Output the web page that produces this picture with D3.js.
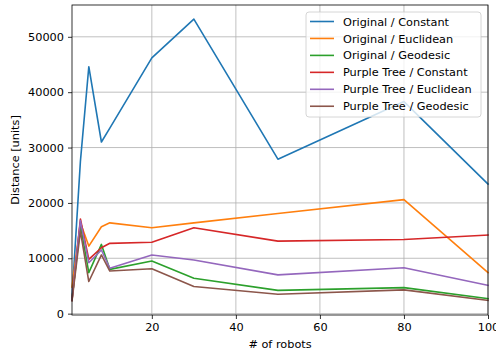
<!DOCTYPE html>
<html>
<head>
<meta charset="utf-8">
<script src="https://cdn.jsdelivr.net/npm/d3@7"></script>
<style>
  html, body { margin: 0; padding: 0; background: #fff; }
  svg { display: block; font-family: "DejaVu Sans", sans-serif; }
</style>
</head>
<body>
<svg id="chart" width="496" height="355"></svg>
<script>
// Number of robots on the x axis
const robots = [1, 3, 5, 8, 10, 20, 30, 50, 80, 100];

// Total distance per configuration
const originalConstant   = [2900, 27500, 44600, 31000, 33500, 46200, 53200, 27900, 38300, 23400];
const originalEuclidean  = [4800, 16400, 12200, 15700, 16400, 15500, 16400, 18100, 20600, 7400];
const originalGeodesic   = [2600, 16000, 7400, 12500, 8000, 9500, 6400, 4200, 4700, 2700];
const purpleConstant     = [2400, 17100, 9800, 11900, 12700, 12900, 15500, 13100, 13400, 14200];
const purpleEuclidean    = [2500, 16800, 9200, 11500, 8200, 10600, 9700, 7000, 8300, 5100];
const purpleGeodesic     = [2300, 14900, 5800, 10600, 7700, 8100, 4900, 3500, 4300, 2400];

const seriesNames = [
  "Original / Constant", "Original / Euclidean", "Original / Geodesic",
  "Purple Tree / Constant", "Purple Tree / Euclidean", "Purple Tree / Geodesic"
];
const seriesValues = [originalConstant, originalEuclidean, originalGeodesic,
                      purpleConstant, purpleEuclidean, purpleGeodesic];
const colors = ["#1f77b4", "#ff7f0e", "#2ca02c", "#d62728", "#9467bd", "#8c564b"];

const xTicks = [20, 40, 60, 80, 100];
const yTicks = [0, 10000, 20000, 30000, 40000, 50000];

const margin = { left: 72, right: 8, top: 5, bottom: 40 };
const W = 496, H = 355;
const svg = d3.select("#chart");

// y limits padded by 5% like the usual autoscale
const allVals = seriesValues.flat();
const yMin = d3.min(allVals), yMax = d3.max(allVals);
const pad = 0.05 * (yMax - yMin);

const x = d3.scaleLinear().domain([1, 100]).range([margin.left, W - margin.right]);
const y = d3.scaleLinear().domain([yMin - pad, yMax + pad]).range([H - margin.bottom, margin.top]);

const fontSize = 11.3;

// grid
const grid = svg.append("g");
grid.selectAll(".gx").data(xTicks).join("line")
  .attr("x1", d => x(d)).attr("x2", d => x(d))
  .attr("y1", y.range()[0]).attr("y2", y.range()[1])
  .attr("stroke", "#b0b0b0").attr("stroke-width", 0.8);
grid.selectAll(".gy").data(yTicks).join("line")
  .attr("x1", x.range()[0]).attr("x2", x.range()[1])
  .attr("y1", d => y(d)).attr("y2", d => y(d))
  .attr("stroke", "#b0b0b0").attr("stroke-width", 0.8);

// lines
const line = d3.line().x((d, i) => x(robots[i])).y(d => y(d));
const plot = svg.append("g");
seriesValues.forEach((vals, k) => {
  plot.append("path").datum(vals)
    .attr("d", line)
    .attr("fill", "none")
    .attr("stroke", colors[k])
    .attr("stroke-width", 1.6)
    .attr("stroke-linejoin", "round")
    .attr("stroke-linecap", "square");
});

// axes
const xAxis = d3.axisBottom(x).tickValues(xTicks).tickSize(4).tickPadding(4);
const yAxis = d3.axisLeft(y).tickValues(yTicks).tickSize(4).tickPadding(4).tickFormat(d3.format("d"));

const gx = svg.append("g").attr("transform", `translate(0,${y.range()[0]})`).call(xAxis);
const gy = svg.append("g").attr("transform", `translate(${x.range()[0]},0)`).call(yAxis);
[gx, gy].forEach(g => {
  g.select(".domain").remove();
  g.selectAll(".tick line").attr("stroke", "#000").attr("stroke-width", 0.8);
  g.selectAll(".tick text").attr("fill", "#000").style("font-size", fontSize + "px")
    .style("font-family", "'DejaVu Sans', sans-serif");
});

// frame
svg.append("rect")
  .attr("x", x.range()[0]).attr("y", y.range()[1])
  .attr("width", x.range()[1] - x.range()[0])
  .attr("height", y.range()[0] - y.range()[1])
  .attr("fill", "none").attr("stroke", "#000").attr("stroke-width", 0.8);

// axis labels
svg.append("text")
  .attr("x", (x.range()[0] + x.range()[1]) / 2).attr("y", 348)
  .attr("text-anchor", "middle").style("font-size", fontSize + "px")
  .text("# of robots");
svg.append("text")
  .attr("transform", `translate(19,${(y.range()[0] + y.range()[1]) / 2}) rotate(-90)`)
  .attr("text-anchor", "middle").style("font-size", fontSize + "px")
  .text("Distance [units]");

// legend
const lg = svg.append("g").attr("transform", "translate(306,12)");
lg.append("rect")
  .attr("width", 175).attr("height", 105).attr("rx", 3)
  .attr("fill", "rgba(255,255,255,0.8)").attr("stroke", "#cccccc").attr("stroke-width", 0.8);
seriesNames.forEach((name, k) => {
  const yy = 9.5 + k * 16.95;
  lg.append("line").attr("x1", 4).attr("x2", 28).attr("y1", yy).attr("y2", yy)
    .attr("stroke", colors[k]).attr("stroke-width", 1.6);
  lg.append("text").attr("x", 37).attr("y", yy).attr("dy", "0.36em")
    .style("font-size", fontSize + "px").text(name);
});
</script>
</body>
</html>
